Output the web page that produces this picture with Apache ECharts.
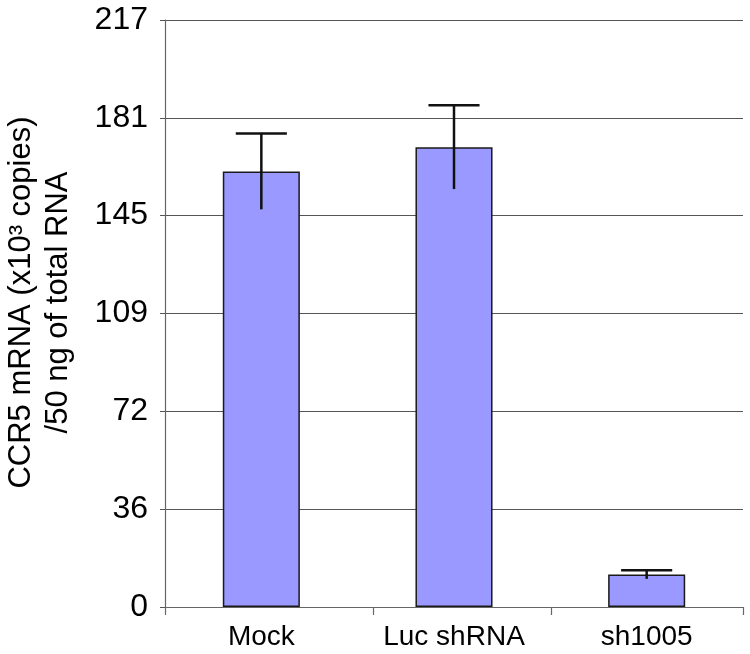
<!DOCTYPE html>
<html>
<head>
<meta charset="utf-8">
<script src="https://cdn.jsdelivr.net/npm/echarts@6/dist/echarts.min.js"></script>
<style>html,body{margin:0;padding:0;background:#fff;}#chart{width:750px;height:654px;}</style>
</head>
<body>
<div id="chart"></div>
<script>
var categories = ['Mock', 'Luc shRNA', 'sh1005'];
var meanValues = [161, 170, 12];
var errorValues = [14, 15.5, 1.6];
var yMax = 217;
var yTickCount = 6;
var categoryTickPositions = [0, 1.0815, 2.007, 3];
var yAxisTitle = 'CCR5 mRNA (x10³ copies)\n/50 ng of total RNA';

var errorData = categories.map(function (c, i) {
  return [i, meanValues[i] - errorValues[i], meanValues[i] + errorValues[i]];
});

var chart = echarts.init(document.getElementById('chart'));
chart.setOption({
  animation: false,
  backgroundColor: '#ffffff',
  grid: { left: 165, right: 7, top: 20, bottom: 47, containLabel: false, outerBoundsMode: 'none' },
  xAxis: [{
    type: 'category',
    data: categories,
    axisLine: { lineStyle: { color: '#666', width: 1.2 } },
    axisTick: { show: false },
    axisLabel: { margin: 16, fontSize: 28, color: '#000', fontFamily: 'Liberation Sans' },
    splitLine: { show: false }
  }, {
    type: 'value',
    min: 0, max: 3,
    position: 'bottom',
    axisLine: { show: false },
    axisLabel: { show: false },
    splitLine: { show: false },
    axisTick: { show: true, length: 8, customValues: categoryTickPositions, lineStyle: { color: '#666', width: 1.2 } }
  }],
  yAxis: {
    type: 'value',
    min: 0, max: yMax,
    interval: yMax / yTickCount,
    name: yAxisTitle,
    nameLocation: 'middle',
    nameRotate: 90,
    nameGap: 88,
    nameTextStyle: { fontSize: 31, lineHeight: 37, color: '#000', fontFamily: 'Liberation Sans', padding: [0, 0, 0, 22] },
    axisLine: { show: true, lineStyle: { color: '#666', width: 1.2 } },
    axisTick: { show: true, length: 5, lineStyle: { color: '#555' } },
    axisLabel: { margin: 17, fontSize: 32, color: '#000', fontFamily: 'Liberation Sans', padding: [6, 0, 0, 0],
      formatter: function (v) { return Math.round(v); } },
    splitLine: { show: true, lineStyle: { color: '#555', width: 1 } }
  },
  series: [{
    type: 'bar',
    data: meanValues,
    barWidth: '40%',
    itemStyle: { color: '#9999ff', borderColor: '#1a1a1a', borderWidth: 1.5 }
  }, {
    type: 'custom',
    data: errorData,
    z: 10,
    renderItem: function (params, api) {
      var x = api.value(0);
      var lo = api.coord([x, api.value(1)]);
      var hi = api.coord([x, api.value(2)]);
      var half = api.size([1, 0])[0] * 0.1326;
      var style = { stroke: '#111', lineWidth: 2.5 };
      return {
        type: 'group',
        children: [
          { type: 'line', shape: { x1: hi[0], y1: hi[1], x2: lo[0], y2: lo[1] }, style: style },
          { type: 'line', shape: { x1: hi[0] - half, y1: hi[1], x2: hi[0] + half, y2: hi[1] }, style: style }
        ]
      };
    }
  }]
});
</script>
</body>
</html>
